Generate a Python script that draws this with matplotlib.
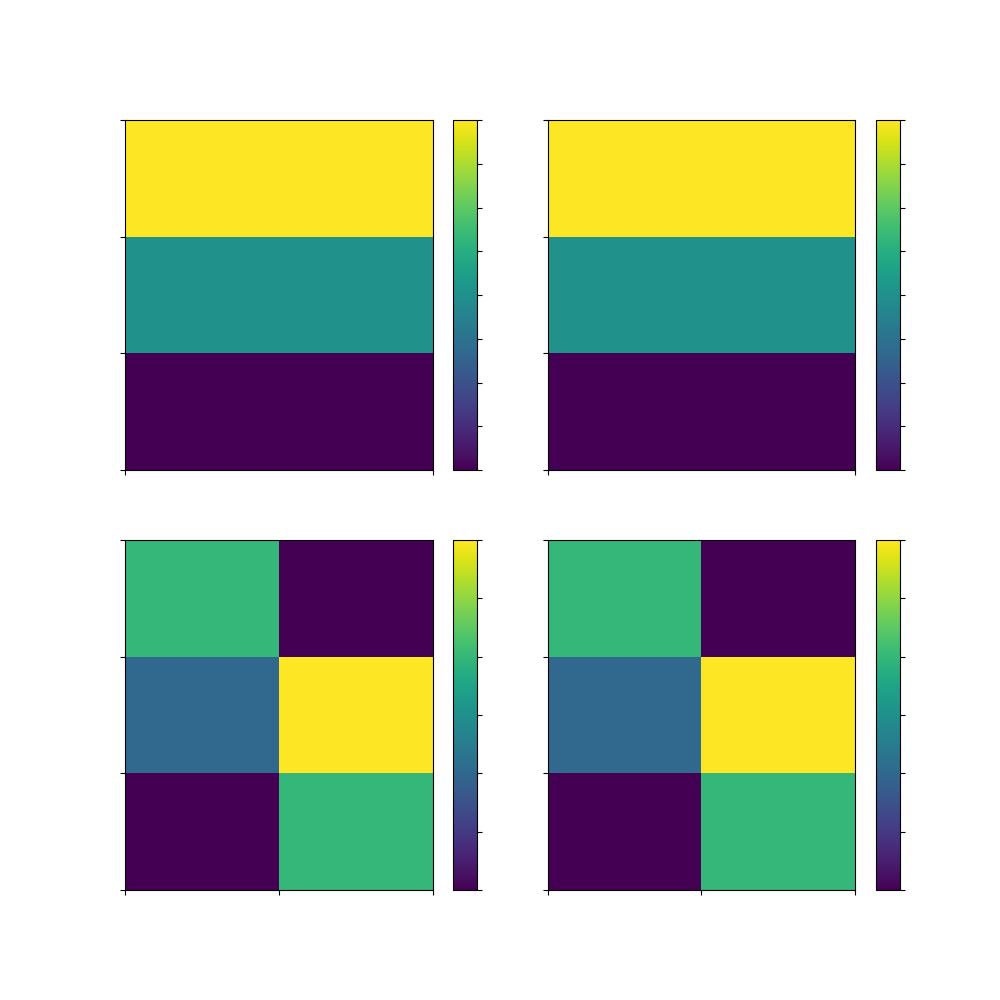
import numpy as np
import matplotlib
matplotlib.use("Agg")
import matplotlib.pyplot as plt

# cell values, first row is the bottom one
top_values = [[0], [2], [4]]
bottom_values = [[0, 4], [2, 6], [4, 0]]

fig, axes = plt.subplots(2, 2, figsize=(10, 10), dpi=100)

for col in range(2):
    for row, vals in enumerate([top_values, bottom_values]):
        ax = axes[row, col]
        z = np.array(vals, dtype=float)
        mesh = ax.pcolormesh(z, cmap="viridis")
        ax.set_xticks(np.arange(z.shape[1] + 1))
        ax.set_yticks(np.arange(z.shape[0] + 1))
        ax.set_xticklabels([])
        ax.set_yticklabels([])
        cb = fig.colorbar(mesh, ax=ax, fraction=0.069, pad=0.058,
                          aspect=14.4, use_gridspec=False)
        cb.ax.set_yticklabels([])

fig.savefig("out.png")
